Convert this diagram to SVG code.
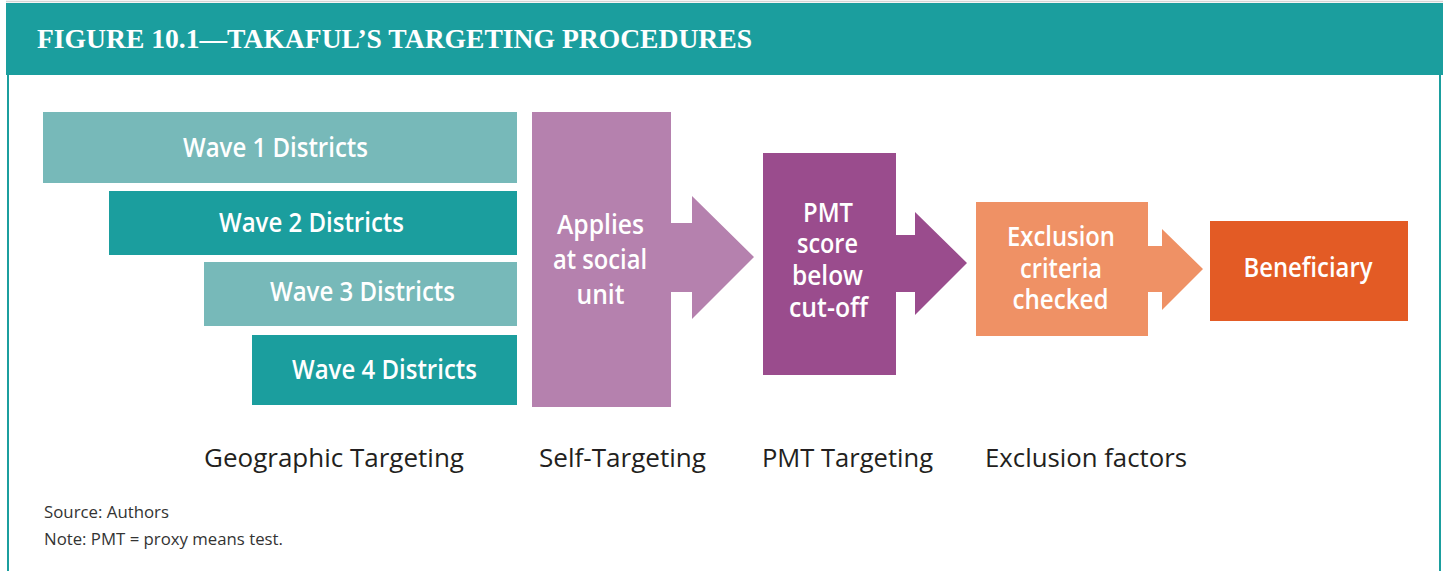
<svg xmlns="http://www.w3.org/2000/svg" width="1443" height="571" viewBox="0 0 1443 571">
<style>
.hdr{font-family:"Liberation Serif",serif;font-weight:700;font-size:28px;fill:#ffffff}
.lbl{font-family:"Open Sans","Noto Sans",sans-serif;font-weight:600;font-size:27px;fill:#ffffff;text-anchor:middle}
.cap{font-family:"Open Sans","Noto Sans",sans-serif;font-weight:400;font-size:26px;fill:#231f20}
.note{font-family:"Open Sans","Noto Sans",sans-serif;font-weight:400;font-size:15.5px;fill:#333333}
.tl{fill:#77b9b9}.td{fill:#1b9e9e}.pl{fill:#b581ae}.pd{fill:#9a4c8d}.sa{fill:#ef9165}.or{fill:#e35b25}
</style>
<rect x="0" y="0" width="1443" height="571" fill="#ffffff"/>
<g id="frame">
<line x1="6" y1="1.5" x2="1443" y2="1.5" stroke="#d4d4d4" stroke-width="1.5"/>
<rect x="6" y="3" width="1437" height="72" fill="#1b9e9e"/>
<rect x="7" y="75" width="2" height="496" fill="#1b9e9e"/>
<rect x="1439" y="75" width="2" height="496" fill="#1b9e9e"/>
<text class="hdr" x="37" y="48" textLength="715" lengthAdjust="spacingAndGlyphs">FIGURE 10.1—TAKAFUL’S TARGETING PROCEDURES</text>
</g>
<g id="connectors">
<polygon class="pl" points="670,223 692,223 692,196 754,257 692,319 692,292 670,292"/>
<polygon class="pd" points="895,235 915,235 915,212 967,263 915,315 915,292 895,292"/>
<polygon class="sa" points="1147,246 1162,246 1162,229 1203,269 1162,310 1162,292 1147,292"/>
</g>
<g id="wave1">
<rect class="tl" x="43" y="112" width="474" height="71"/>
<text class="lbl" x="275.5" y="157" textLength="185" lengthAdjust="spacingAndGlyphs">Wave 1 Districts</text>
</g>
<g id="wave2">
<rect class="td" x="109" y="191" width="408" height="64"/>
<text class="lbl" x="311.5" y="232" textLength="185" lengthAdjust="spacingAndGlyphs">Wave 2 Districts</text>
</g>
<g id="wave3">
<rect class="tl" x="204" y="262" width="313" height="64"/>
<text class="lbl" x="362.5" y="301" textLength="185" lengthAdjust="spacingAndGlyphs">Wave 3 Districts</text>
</g>
<g id="wave4">
<rect class="td" x="252" y="335" width="265" height="70"/>
<text class="lbl" x="384.5" y="379" textLength="185" lengthAdjust="spacingAndGlyphs">Wave 4 Districts</text>
</g>
<g id="self-targeting">
<rect class="pl" x="532" y="112" width="139" height="295"/>
<text class="lbl" x="600.5" y="234" textLength="87" lengthAdjust="spacingAndGlyphs">Applies</text>
<text class="lbl" x="600" y="269" textLength="94" lengthAdjust="spacingAndGlyphs">at social</text>
<text class="lbl" x="600.5" y="304" textLength="48" lengthAdjust="spacingAndGlyphs">unit</text>
</g>
<g id="pmt">
<rect class="pd" x="763" y="153" width="133" height="222"/>
<text class="lbl" x="828" y="222" textLength="50" lengthAdjust="spacingAndGlyphs">PMT</text>
<text class="lbl" x="827.5" y="253" textLength="61" lengthAdjust="spacingAndGlyphs">score</text>
<text class="lbl" x="827.5" y="285" textLength="71" lengthAdjust="spacingAndGlyphs">below</text>
<text class="lbl" x="828.5" y="317" textLength="79" lengthAdjust="spacingAndGlyphs">cut-off</text>
</g>
<g id="exclusion">
<rect class="sa" x="976" y="202" width="172" height="134"/>
<text class="lbl" x="1061" y="246" textLength="108" lengthAdjust="spacingAndGlyphs">Exclusion</text>
<text class="lbl" x="1061" y="278" textLength="82" lengthAdjust="spacingAndGlyphs">criteria</text>
<text class="lbl" x="1060.5" y="309" textLength="96" lengthAdjust="spacingAndGlyphs">checked</text>
</g>
<g id="beneficiary">
<rect class="or" x="1210" y="221" width="198" height="100"/>
<text class="lbl" x="1308" y="277" textLength="129" lengthAdjust="spacingAndGlyphs">Beneficiary</text>
</g>
<g id="captions">
<text class="cap" x="204" y="467" textLength="260" lengthAdjust="spacingAndGlyphs">Geographic Targeting</text>
<text class="cap" x="539" y="467" textLength="167" lengthAdjust="spacingAndGlyphs">Self-Targeting</text>
<text class="cap" x="762" y="467" textLength="171" lengthAdjust="spacingAndGlyphs">PMT Targeting</text>
<text class="cap" x="985" y="467" textLength="202" lengthAdjust="spacingAndGlyphs">Exclusion factors</text>
</g>
<g id="notes">
<text class="note" x="44" y="518" textLength="125" lengthAdjust="spacingAndGlyphs">Source: Authors</text>
<text class="note" x="44" y="545" textLength="239" lengthAdjust="spacingAndGlyphs">Note: PMT = proxy means test.</text>
</g>
</svg>
